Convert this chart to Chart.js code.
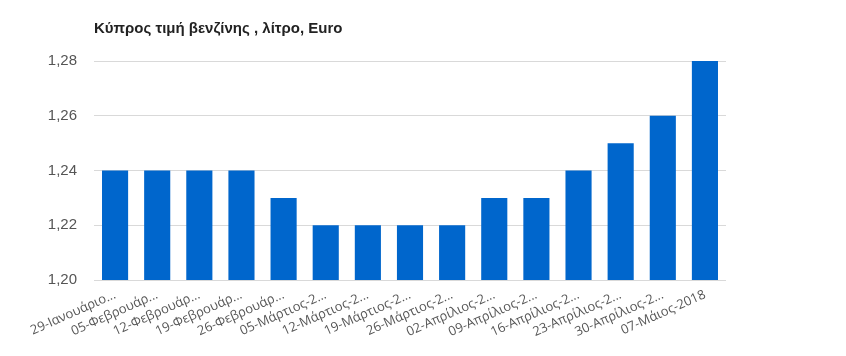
<!DOCTYPE html>
<html>
<head>
<meta charset="utf-8">
<script src="https://cdn.jsdelivr.net/npm/chart.js@4/dist/chart.umd.min.js"></script>
<style>
html,body{margin:0;padding:0;background:#fff;}
#wrap{width:846px;height:356px;position:relative;}
</style>
</head>
<body>
<div id="wrap"><canvas id="c" width="846" height="356"></canvas></div>
<script>
const titleText = "Κύπρος τιμή βενζίνης , λίτρο, Euro";
const categories = [
  "29-Ιανουάριος-2018","05-Φεβρουάριος-2018","12-Φεβρουάριος-2018","19-Φεβρουάριος-2018",
  "26-Φεβρουάριος-2018","05-Μάρτιος-2018","12-Μάρτιος-2018","19-Μάρτιος-2018",
  "26-Μάρτιος-2018","02-Απρίλιος-2018","09-Απρίλιος-2018","16-Απρίλιος-2018",
  "23-Απρίλιος-2018","30-Απρίλιος-2018","07-Μάιος-2018"
];
const tickLabels = [
  "29-Ιανουάριο...","05-Φεβρουάρ...","12-Φεβρουάρ...","19-Φεβρουάρ...",
  "26-Φεβρουάρ...","05-Μάρτιος-2...","12-Μάρτιος-2...","19-Μάρτιος-2...",
  "26-Μάρτιος-2...","02-Απρίλιος-2...","09-Απρίλιος-2...","16-Απρίλιος-2...",
  "23-Απρίλιος-2...","30-Απρίλιος-2...","07-Μάιος-2018"
];
const prices = [1.24,1.24,1.24,1.24,1.23,1.22,1.22,1.22,1.22,1.23,1.23,1.24,1.25,1.26,1.28];
const yTicks = [1.20,1.22,1.24,1.26,1.28];

const titlePlugin = {
  id:'leftTitle',
  afterDraw(chart){
    const ctx = chart.ctx;
    ctx.save();
    ctx.font = 'bold 15px "Liberation Sans", Arial, sans-serif';
    ctx.fillStyle = '#222';
    ctx.textBaseline = 'alphabetic';
    ctx.textAlign = 'left';
    ctx.fillText(titleText, chart.chartArea.left, 33);
    ctx.restore();
  }
};

new Chart(document.getElementById('c'), {
  type:'bar',
  data:{
    labels: categories,
    datasets:[{
      data: prices,
      backgroundColor:'#0066cc',
      borderWidth:0,
      categoryPercentage:0.62,
      barPercentage:1.0
    }]
  },
  options:{
    responsive:false,
    animation:false,
    layout:{padding:{top:61,right:120,left:0,bottom:0}},
    plugins:{legend:{display:false},tooltip:{enabled:false},title:{display:false}},
    scales:{
      x:{
        grid:{display:false,drawTicks:false},
        border:{display:false},
        afterFit(scale){ scale.height = 76; },
        ticks:{
          autoSkip:false,
          minRotation:24, maxRotation:24,
          padding:7,
          color:'#555',
          font:{family:'"Open Sans"', size:13},
          callback(v){ return tickLabels[v]; }
        }
      },
      y:{
        min:1.20, max:1.28,
        afterFit(scale){ scale.width = 94; },
        afterBuildTicks(scale){ scale.ticks = yTicks.map(v=>({value:v})); },
        grid:{color:'#d9d9d9',drawTicks:false,lineWidth:1},
        border:{display:false},
        ticks:{
          padding:17,
          color:'#555',
          font:{family:'"Liberation Sans", Arial', size:15},
          callback(v){ return v.toFixed(2).replace('.', ','); }
        }
      }
    }
  },
  plugins:[titlePlugin]
});
</script>
</body>
</html>
